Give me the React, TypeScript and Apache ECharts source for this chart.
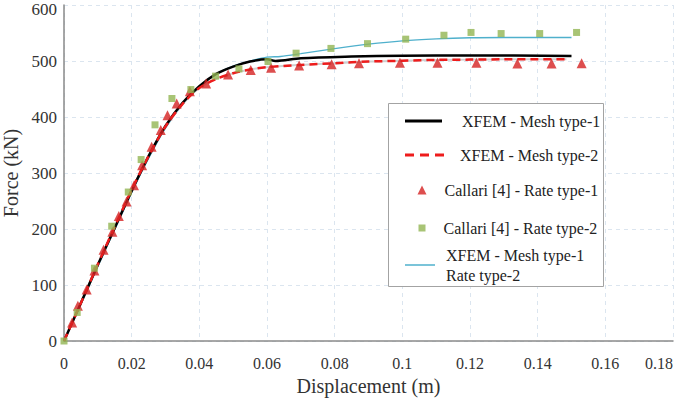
import React, { useEffect, useRef } from "react";
import * as echarts from "echarts";

// XFEM - Mesh type-1
const xfem1Disp = [0, 0.005, 0.01, 0.015, 0.02, 0.025, 0.03, 0.035, 0.04, 0.045, 0.05, 0.055, 0.06, 0.0625, 0.07, 0.085, 0.1, 0.12, 0.15];
const xfem1Force = [0, 68, 136, 202, 268, 330, 384, 425, 455, 477, 490, 499, 503, 500, 505, 508, 509.5, 510, 509];

// XFEM - Mesh type-2
const xfem2Disp = [0, 0.005, 0.01, 0.015, 0.02, 0.025, 0.03, 0.035, 0.04, 0.045, 0.05, 0.055, 0.06, 0.07, 0.08, 0.09, 0.1, 0.11, 0.12, 0.13, 0.14, 0.1485];
const xfem2Force = [0, 68, 137, 204, 270, 330, 383, 423, 452, 468, 478, 485, 489, 493, 496, 499, 500.5, 502, 502.5, 503, 503, 503];

// XFEM - Mesh type-1, Rate type-2
const xfemRateDisp = [0, 0.005, 0.01, 0.015, 0.02, 0.025, 0.03, 0.035, 0.04, 0.045, 0.05, 0.055, 0.06, 0.064, 0.07, 0.08, 0.09, 0.1, 0.11, 0.12, 0.13, 0.14, 0.15];
const xfemRateForce = [0, 66, 133, 199, 265, 326, 380, 422, 453, 477, 491, 500, 507, 508, 513, 522, 530, 536, 539.5, 541.5, 542, 542, 542];

// Callari [4] - Rate type-1
const callari1Disp = [0.0024, 0.0041, 0.0067, 0.009, 0.0117, 0.0143, 0.0162, 0.0185, 0.0207, 0.0231, 0.0259, 0.0286, 0.0306, 0.0333, 0.0372, 0.042, 0.0485, 0.0552, 0.0612, 0.0695, 0.0791, 0.0872, 0.0993, 0.1104, 0.1219, 0.134, 0.1441, 0.153];
const callari1Force = [33, 63, 92, 126, 163, 195, 223, 249, 278, 314, 347, 377, 403, 424, 446, 460, 476, 484, 488, 492, 494, 496, 497, 497, 497, 495.5, 495.5, 496];

// Callari [4] - Rate type-2
const callari2Disp = [0, 0.0039, 0.009, 0.0141, 0.019, 0.0228, 0.0269, 0.0319, 0.0375, 0.0448, 0.0517, 0.0603, 0.0686, 0.0789, 0.0897, 0.101, 0.1123, 0.1203, 0.1292, 0.1406, 0.1515];
const callari2Force = [0, 51, 130, 205, 266, 324, 386, 433, 449, 473, 486, 499, 514, 522.5, 531, 539, 546, 551, 549, 549, 551];

const xTicks = { min: 0, max: 0.18, interval: 0.02 };
const yTicks = { min: 0, max: 600, interval: 100 };

const names = [
  "XFEM - Mesh type-1",
  "XFEM - Mesh type-2",
  "Callari [4] - Rate type-1",
  "Callari [4] - Rate type-2",
  "XFEM - Mesh type-1\nRate type-2",
];

const zip = (a: number[], b: number[]) => a.map((v, i) => [v, b[i]]);

const FONT = "Liberation Serif";

const solidIcon = (w: number) => `path://M0,0h${w}v3h-${w}z`;
const dashedIcon = "path://M0,0h9v3h-9z M15,0h9v3h-9z M30,0h9v3h-9z";

export default function App() {
  const ref = useRef<HTMLDivElement>(null);
  useEffect(() => {
    document.body.style.margin = "0";
    if (!ref.current) return;
    const chart = echarts.init(ref.current, undefined, { renderer: "svg" });
    const legendText = { fontFamily: FONT, fontSize: 16, color: "#222", lineHeight: 18 };
    chart.setOption({
      animation: false,
      backgroundColor: "#fff",
      textStyle: { fontFamily: FONT },
      grid: { left: 64, right: 12, top: 5, bottom: 64, containLabel: false, outerBoundsMode: "none" },
      xAxis: {
        type: "value",
        min: xTicks.min,
        max: xTicks.max,
        interval: xTicks.interval,
        name: "Displacement (m)",
        nameLocation: "middle",
        nameGap: 31,
        nameTextStyle: { fontFamily: FONT, fontSize: 20, color: "#333" },
        axisLine: { show: true, lineStyle: { color: "#8a8a8a", width: 1.5 } },
        axisTick: { show: false },
        axisLabel: {
          fontFamily: FONT,
          fontSize: 16,
          color: "#333",
          margin: 14,
          alignMaxLabel: "right",
          formatter: (v: number) => String(Math.round(v * 100) / 100),
        },
        splitLine: { show: true, lineStyle: { color: "#dbe5ef", type: [4, 4], width: 1 } },
      },
      yAxis: {
        type: "value",
        min: yTicks.min,
        max: yTicks.max,
        interval: yTicks.interval,
        name: "Force (kN)",
        nameLocation: "middle",
        nameGap: 41,
        nameTextStyle: { fontFamily: FONT, fontSize: 20, color: "#333" },
        axisLine: { show: true, lineStyle: { color: "#8a8a8a", width: 1.5 } },
        axisTick: { show: false },
        axisLabel: {
          fontFamily: FONT,
          fontSize: 17,
          color: "#333",
          margin: 7,
          formatter: (v: number) => (v === yTicks.max ? `{top|${v}}` : String(v)),
          rich: { top: { fontFamily: FONT, fontSize: 17, color: "#333", padding: [9, 0, 0, 0] } },
        },
        splitLine: { show: true, lineStyle: { color: "#dbe5ef", type: [4, 4], width: 1 } },
      },
      legend: [
        {
          data: [{ name: names[0], icon: solidIcon(37) }],
          left: 405, top: 112, padding: 0, itemWidth: 37, itemHeight: 3,
          textStyle: { ...legendText, padding: [0, 0, 0, 15] },
        },
        {
          data: [{ name: names[1], icon: dashedIcon }],
          left: 405, top: 146, padding: 0, itemWidth: 39, itemHeight: 3,
          textStyle: { ...legendText, padding: [0, 0, 0, 11] },
        },
        {
          data: [names[2]],
          left: 417.5, top: 181, padding: 0, itemWidth: 9, itemHeight: 9,
          textStyle: { ...legendText, padding: [0, 0, 0, 13] },
        },
        {
          data: [names[3]],
          left: 418.5, top: 219, padding: 0, itemWidth: 7, itemHeight: 7,
          textStyle: { ...legendText, padding: [0, 0, 0, 13] },
        },
        {
          data: [{ name: names[4], icon: "path://M0,0h30v1.5h-30z" }],
          left: 405, top: 245, padding: 0, itemWidth: 30, itemHeight: 1.5,
          textStyle: { ...legendText, lineHeight: 20, padding: [0, 0, 0, 6] },
        },
      ],
      graphic: [
        {
          type: "rect",
          z: 3,
          shape: { x: 388.5, y: 103.5, width: 215, height: 183 },
          style: { fill: "#fff", stroke: "#a3a3a3", lineWidth: 1 },
        },
      ],
      series: [
        {
          name: names[4],
          type: "line",
          data: zip(xfemRateDisp, xfemRateForce),
          symbol: "none",
          smooth: 0.3,
          lineStyle: { color: "#4fb0cc", width: 1.3 },
          itemStyle: { color: "#4fb0cc" },
          z: 2,
        },
        {
          name: "_grey",
          type: "line",
          data: zip(xfem2Disp, xfem2Force),
          symbol: "none",
          smooth: 0.3,
          lineStyle: { color: "#cfcfcf", width: 2 },
          z: 2,
          silent: true,
        },
        {
          name: names[0],
          type: "line",
          data: zip(xfem1Disp, xfem1Force),
          symbol: "none",
          smooth: 0.3,
          lineStyle: { color: "#000", width: 2.5 },
          itemStyle: { color: "#000" },
          z: 3,
        },
        {
          name: names[1],
          type: "line",
          data: zip(xfem2Disp, xfem2Force),
          symbol: "none",
          smooth: 0.3,
          lineStyle: { color: "#ee1c1c", width: 2.5, type: [8, 5] },
          itemStyle: { color: "#ee1c1c" },
          z: 4,
        },
        {
          name: names[2],
          type: "scatter",
          data: zip(callari1Disp, callari1Force),
          symbol: "triangle",
          symbolSize: 10,
          itemStyle: { color: "#d42222" },
          z: 5,
        },
        {
          name: names[3],
          type: "scatter",
          data: zip(callari2Disp, callari2Force),
          symbol: "rect",
          symbolSize: 7,
          itemStyle: { color: "#92b553" },
          z: 5,
        },
      ],
    });
    return () => chart.dispose();
  }, []);
  return <div ref={ref} style={{ width: 685, height: 405 }} />;
}
